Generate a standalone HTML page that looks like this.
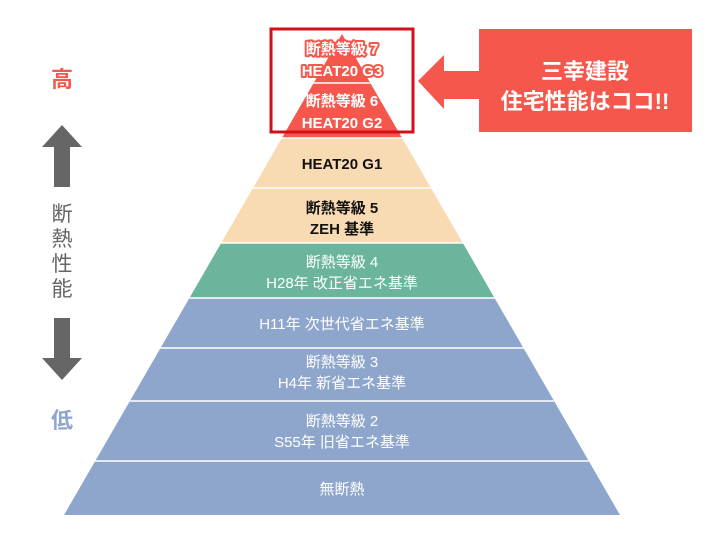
<!DOCTYPE html>
<html><head><meta charset="utf-8"><style>
body{margin:0;background:#fff}
text{font-family:"Liberation Sans","Noto Sans CJK JP",sans-serif;}
</style></head><body>
<svg width="720" height="550" viewBox="0 0 720 550" xmlns="http://www.w3.org/2000/svg">
<defs><clipPath id="p"><polygon points="342,34 620,515 64,515"/></clipPath></defs>
<g clip-path="url(#p)">
<rect x="0" y="0" width="720" height="138" fill="#f5574c"/>
<rect x="0" y="138" width="720" height="105" fill="#f9dbb3"/>
<rect x="0" y="243" width="720" height="55" fill="#6cb59d"/>
<rect x="0" y="298" width="720" height="217" fill="#8fa6cc"/>
<g stroke="#fff" stroke-width="1.5">
<line x1="0" y1="83" x2="720" y2="83"/><line x1="0" y1="138" x2="720" y2="138"/>
<line x1="0" y1="188" x2="720" y2="188"/><line x1="0" y1="243" x2="720" y2="243"/>
<line x1="0" y1="298" x2="720" y2="298"/><line x1="0" y1="348" x2="720" y2="348"/>
<line x1="0" y1="401" x2="720" y2="401"/><line x1="0" y1="461" x2="720" y2="461"/>
</g></g>
<g font-size="15" text-anchor="middle" font-weight="bold">
<g fill="#fff" stroke="#f5574c" stroke-width="4" paint-order="stroke" stroke-linejoin="round">
<text x="342" y="54">断熱等級 7</text><text x="342" y="76">HEAT20 G3</text>
</g>
<g fill="#fff">
<text x="342" y="106">断熱等級 6</text><text x="342" y="128">HEAT20 G2</text>
</g>
<g fill="#111">
<text x="342" y="169">HEAT20 G1</text>
<text x="342" y="213">断熱等級 5</text><text x="342" y="234">ZEH 基準</text>
</g>
<g fill="#fff" font-weight="normal">
<text x="342" y="267">断熱等級 4</text><text x="342" y="288">H28年 改正省エネ基準</text>
<text x="342" y="329">H11年 次世代省エネ基準</text>
<text x="342" y="367">断熱等級 3</text><text x="342" y="388">H4年 新省エネ基準</text>
<text x="342" y="426">断熱等級 2</text><text x="342" y="447">S55年 旧省エネ基準</text>
<text x="342" y="494">無断熱</text>
</g></g>
<rect x="271" y="29" width="142" height="103" fill="none" stroke="#d0111b" stroke-width="3"/>
<rect x="479" y="29" width="213" height="103" fill="#f5574c"/>
<polygon points="418,81 444,55 444,71 480,71 480,99 444,99 444,109" fill="#f5574c"/>
<g fill="#fff" font-size="22" font-weight="bold" text-anchor="middle">
<text x="585" y="79">三幸建設</text><text x="585" y="109">住宅性能はココ!!</text>
</g>
<text x="62" y="87" font-size="22" font-weight="bold" fill="#f5574c" text-anchor="middle">高</text>
<polygon points="62,125 82,147 70,147 70,187 54,187 54,147 42,147" fill="#666"/>
<g font-size="21" fill="#666" text-anchor="middle">
<text x="62" y="221">断</text><text x="62" y="246">熱</text><text x="62" y="271">性</text><text x="62" y="296">能</text>
</g>
<polygon points="54,318 70,318 70,358 82,358 62,380 42,358 54,358" fill="#666"/>
<text x="62" y="428" font-size="22" font-weight="bold" fill="#8fa6cc" text-anchor="middle">低</text>
</svg>
</body></html>
